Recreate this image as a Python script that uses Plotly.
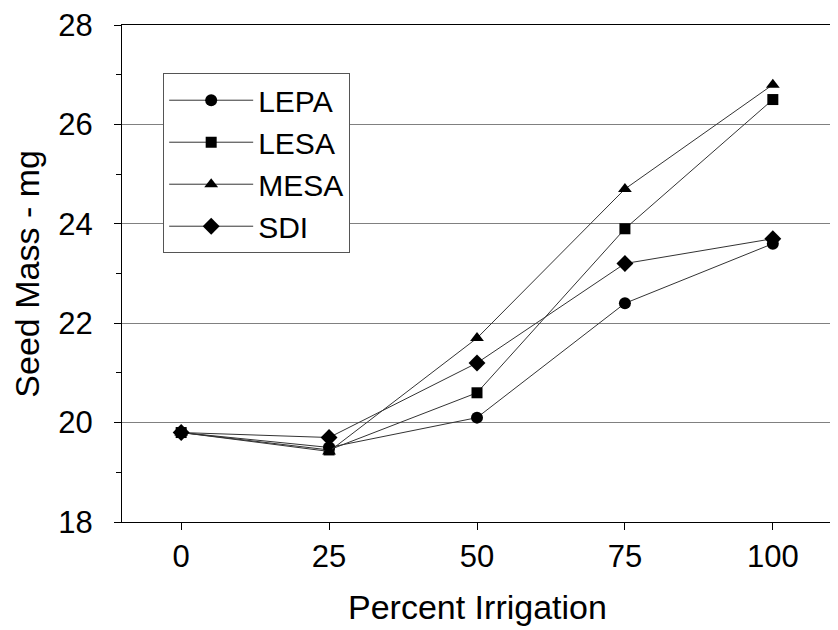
import plotly.graph_objects as go

irrigation = [0, 25, 50, 75, 100]
lepa = [19.8, 19.5, 20.1, 22.4, 23.6]
lesa = [19.8, 19.45, 20.6, 23.9, 26.5]
mesa = [19.8, 19.42, 21.7, 24.7, 26.8]
sdi = [19.8, 19.7, 21.2, 23.2, 23.7]
y_ticks = [18, 20, 22, 24, 26, 28]
y_minor = [19, 21, 23, 25, 27]

series = [
    ("LEPA", lepa, "circle", 12),
    ("LESA", lesa, "square", 11),
    ("MESA", mesa, "triangle-up", 12),
    ("SDI", sdi, "diamond", 13),
]

fig = go.Figure()
for name, vals, sym, sz in series:
    fig.add_trace(go.Scatter(
        x=irrigation, y=vals, name=name, mode="lines+markers",
        line=dict(color="#333333", width=1),
        marker=dict(symbol=sym, size=sz, color="black"),
    ))

font = "Liberation Sans, Arial, sans-serif"
fig.update_layout(
    width=838, height=630,
    margin=dict(l=114, r=14, t=17, b=116),
    paper_bgcolor="white", plot_bgcolor="white",
    font=dict(family=font, size=22, color="black"),
    showlegend=True,
    legend=dict(
        x=0.058, y=0.903, xanchor="left", yanchor="top",
        bgcolor="white", bordercolor="#555555", borderwidth=1,
        font=dict(size=30), itemwidth=84,
    ),
    xaxis=dict(
        range=[-10, 110], tickvals=irrigation, ticktext=[str(v) for v in irrigation],
        showgrid=False, zeroline=False, automargin=False,
        showline=True, linecolor="black", linewidth=1, mirror=True,
        ticks="outside", ticklen=7, tickcolor="black",
        tickfont=dict(size=31), ticklabelstandoff=0,
        ticklabeloverflow="allow",
    ),
    yaxis=dict(
        range=[18, 28], tickvals=y_ticks,
        showgrid=True, gridcolor="#808080", gridwidth=1, zeroline=False,
        automargin=False,
        showline=True, linecolor="black", linewidth=1, mirror=True,
        ticks="outside", ticklen=7, tickcolor="black",
        tickfont=dict(size=31), ticklabelstandoff=15,
        ticklabeloverflow="allow",
        minor=dict(tickvals=y_minor, ticks="outside", ticklen=5,
                   tickcolor="black", showgrid=False),
    ),
    annotations=[
        dict(text="Percent Irrigation", xref="paper", yref="paper",
             x=0.5, y=-0.171, xanchor="center", yanchor="middle",
             showarrow=False, font=dict(size=34)),
        dict(text="Seed Mass - mg", xref="paper", yref="paper",
             x=-0.135, y=0.5, xanchor="center", yanchor="middle",
             textangle=-90, showarrow=False, font=dict(size=34)),
    ],
)

fig.write_html("out.html")
